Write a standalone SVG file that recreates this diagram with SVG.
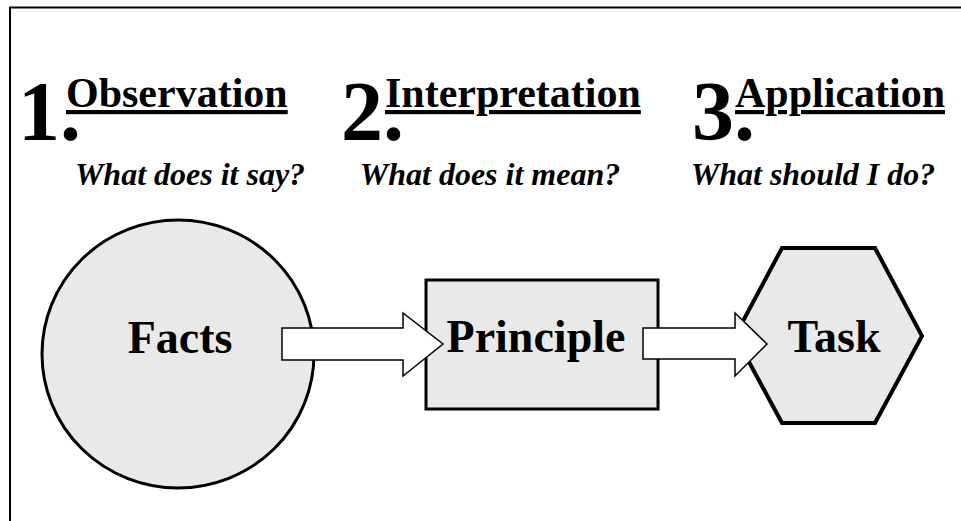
<svg xmlns="http://www.w3.org/2000/svg" width="961" height="521" viewBox="0 0 961 521">
<style>
text{font-family:"Liberation Serif","Times New Roman",serif;font-weight:bold;fill:#000}
.num{font-size:84px}
.head{font-size:42px;text-decoration:underline}
.q{font-size:32px;font-style:italic;text-anchor:middle}
.lbl{font-size:46px;text-anchor:middle}
.node{fill:#e9e9e9;stroke:#000}
.arrow{fill:#fff;stroke:#000;stroke-width:1.5;stroke-linejoin:miter}
</style>
<rect width="961" height="521" fill="#fff"/>
<g id="frame" fill="none" stroke="#000" stroke-width="2">
<path d="M10 521 V7.5 H961"/>
</g>
<g id="step1">
<text x="18" y="140"><tspan class="num">1.</tspan><tspan class="head" x="66" y="107">Observation</tspan></text>
<text class="q" x="190" y="185">What does it say?</text>
</g>
<g id="step2">
<text x="341" y="140"><tspan class="num">2.</tspan><tspan class="head" x="385" y="107">Interpretation</tspan></text>
<text class="q" x="490" y="185">What does it mean?</text>
</g>
<g id="step3">
<text x="692" y="140"><tspan class="num">3.</tspan><tspan class="head" x="735" y="107">Application</tspan></text>
<text class="q" x="813" y="185">What should I do?</text>
</g>
<g id="facts">
<ellipse class="node" cx="178" cy="354" rx="136" ry="134" stroke-width="3"/>
<text class="lbl" x="180" y="353">Facts</text>
</g>
<g id="principle">
<rect class="node" x="426" y="280" width="232" height="129" stroke-width="3"/>
<text class="lbl" x="536" y="352">Principle</text>
</g>
<g id="task">
<polygon class="node" points="782,248 875,248 922,336 875,423 782,423 735,336" stroke-width="4" stroke-linejoin="miter"/>
<text class="lbl" x="834" y="352">Task</text>
</g>
<g id="connectors">
<polygon class="arrow" points="282,328 403,328 403,313 443,344 403,376 403,360 282,360"/>
<polygon class="arrow" points="643,328 735,328 735,313 767,344 735,376 735,359 643,359"/>
</g>
</svg>
